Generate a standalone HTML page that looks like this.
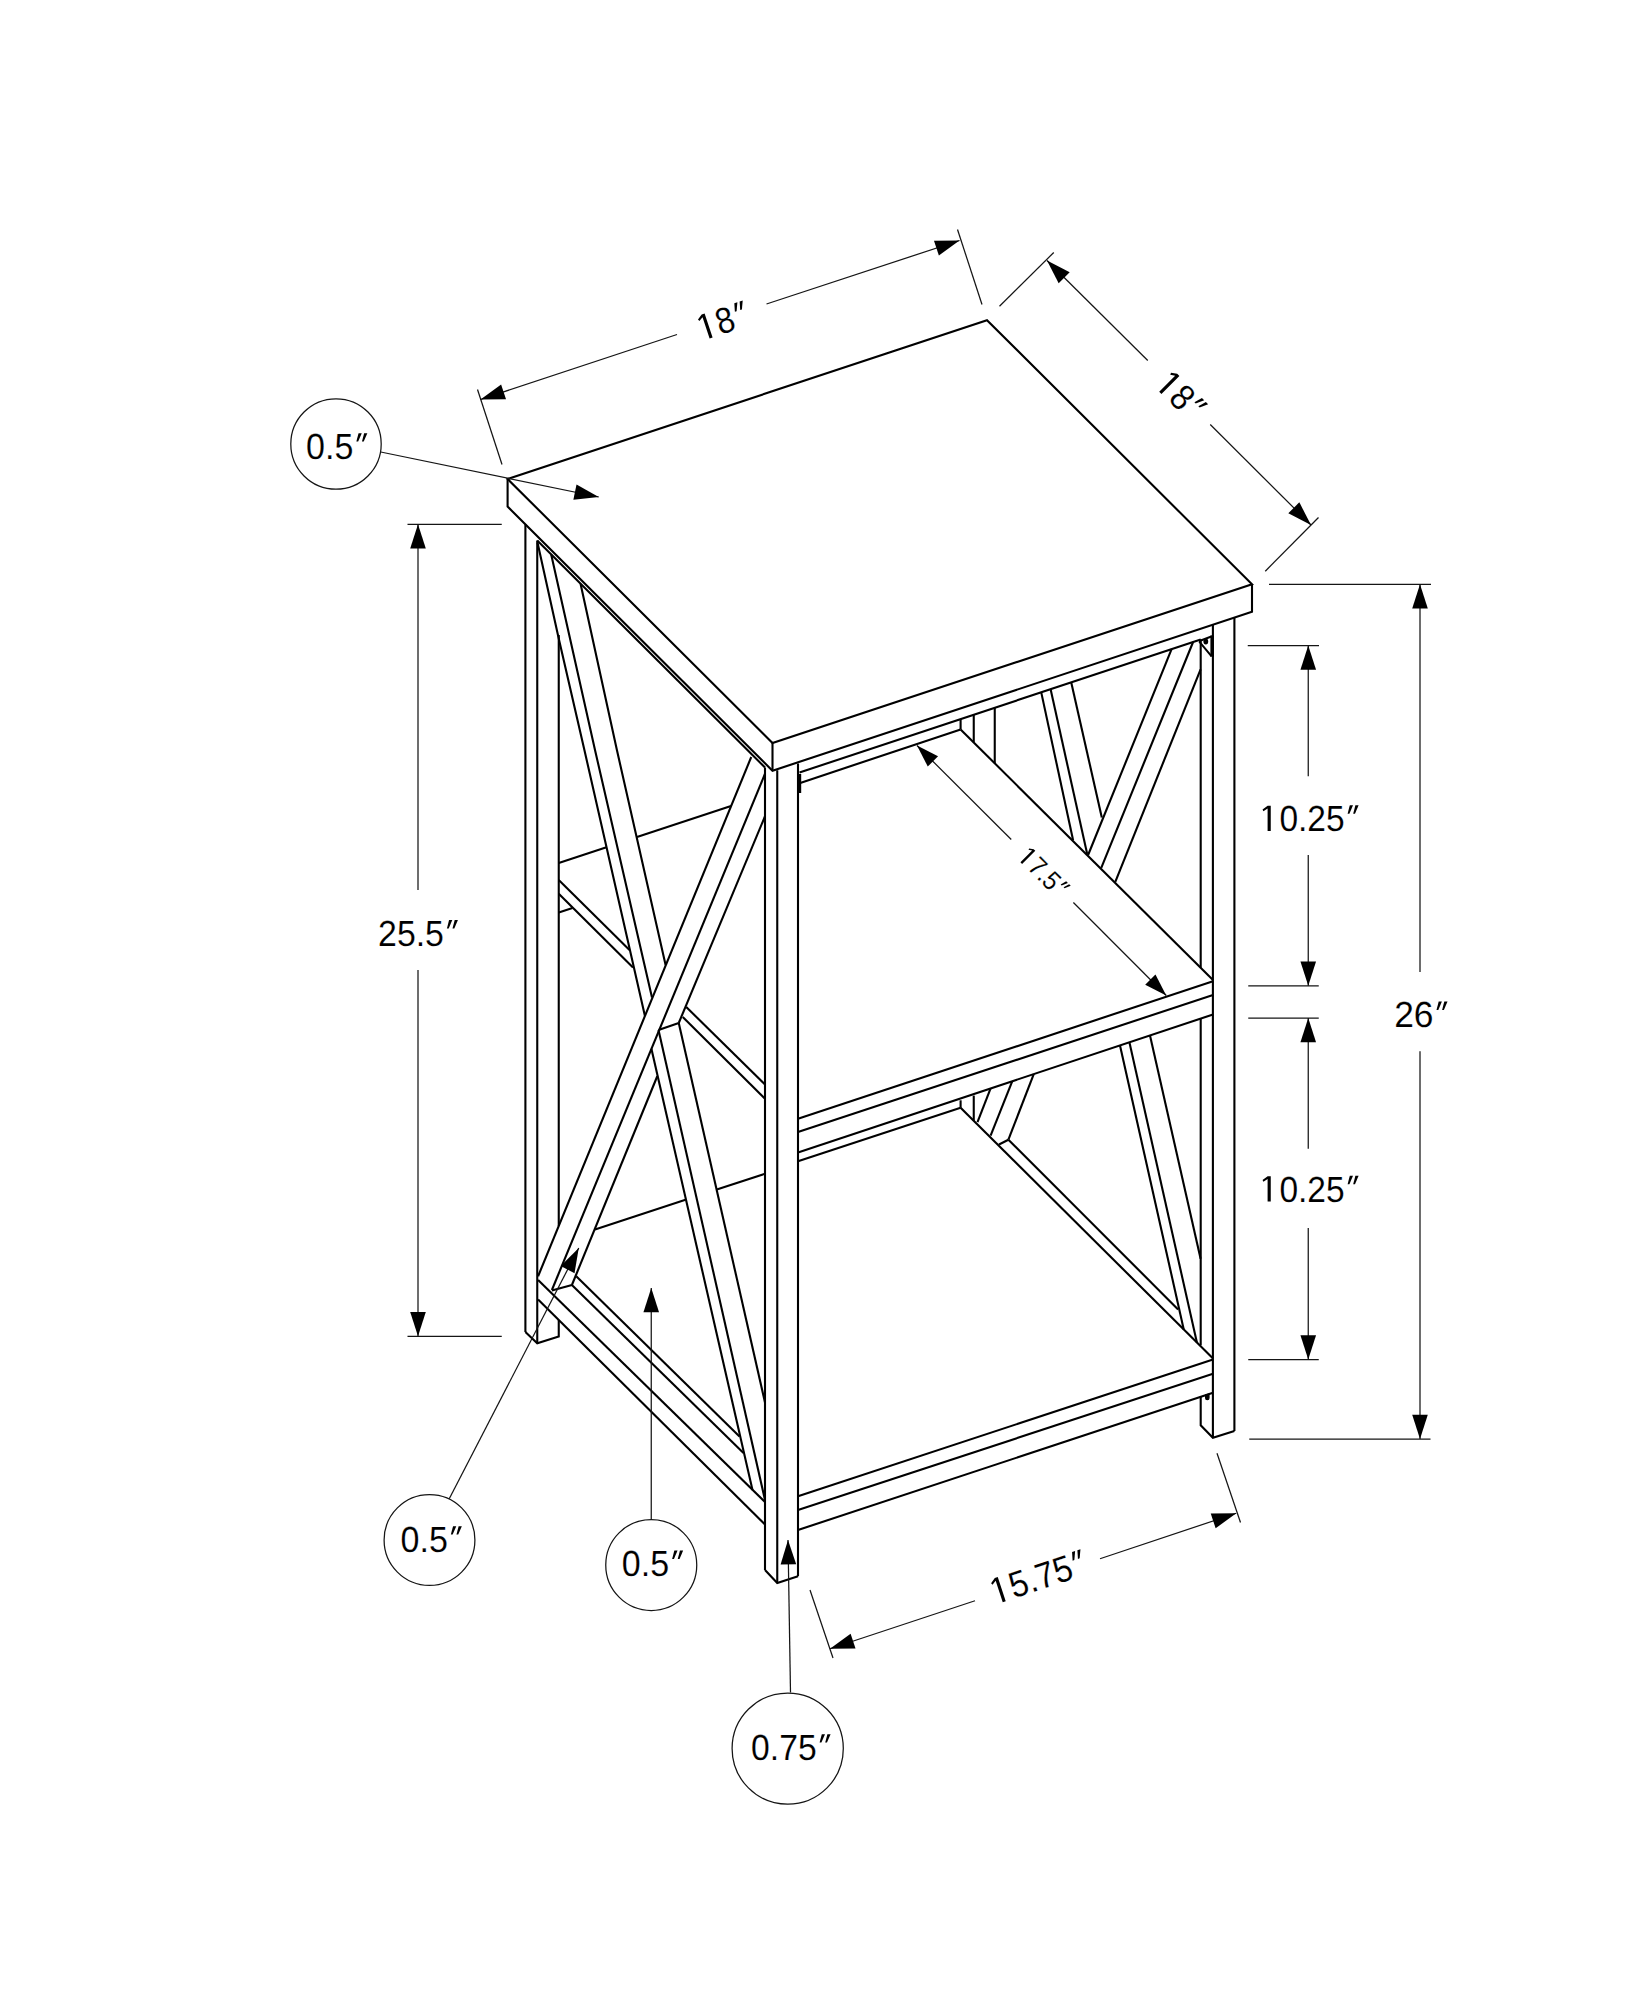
<!DOCTYPE html>
<html><head><meta charset="utf-8"><title>Dimensions</title>
<style>
html,body{margin:0;padding:0;background:#fff;}
body{width:1648px;height:2000px;overflow:hidden;}
svg{display:block;}
.k{fill:none;stroke:#000;stroke-width:2.1;stroke-linecap:butt;stroke-linejoin:miter;}
.t{fill:none;stroke:#151515;stroke-width:1.25;}
.a{fill:#000;stroke:none;}
text{font-family:"Liberation Sans",sans-serif;text-rendering:geometricPrecision;fill:#000;stroke:#fff;stroke-width:0.12;}
.h{fill:none;stroke:none;}
</style></head><body>
<svg width="1648" height="2000" viewBox="0 0 1648 2000">
<rect width="1648" height="2000" fill="#fff"/>
<g>
<path class="k" d="M507.60 479.00 L987.00 320.20 L1252.00 584.25 L772.50 743.00 Z"/>
<path class="k" d="M507.60 479.00 L507.60 506.60 L772.50 770.75 L1252.00 611.75 L1252.00 584.25"/>
<line class="k" x1="772.50" y1="743.00" x2="772.50" y2="770.75"/>
<line class="k" x1="537.25" y1="540.60" x2="765.00" y2="767.50"/>
<line class="k" x1="525.40" y1="524.50" x2="525.40" y2="1332.00"/>
<line class="k" x1="537.25" y1="540.60" x2="537.25" y2="1343.30"/>
<line class="k" x1="558.75" y1="635.00" x2="558.75" y2="1226.00"/>
<path class="k" d="M525.40 1332.00 L537.25 1343.30 L558.75 1336.50 L558.75 1320.00"/>
<line class="k" x1="765.00" y1="767.50" x2="765.00" y2="1570.00"/>
<line class="k" x1="777.25" y1="770.30" x2="777.25" y2="1583.00"/>
<line class="k" x1="798.00" y1="763.50" x2="798.00" y2="1576.25"/>
<path class="k" d="M765.00 1570.00 L777.25 1583.00 L798.00 1576.25"/>
<line class="k" x1="1200.70" y1="639.50" x2="1200.70" y2="967.70"/>
<line class="k" x1="1200.70" y1="1018.60" x2="1200.70" y2="1345.20"/>
<path class="k" d="M1200.70 1396.50 L1200.70 1425.30 L1212.90 1437.70 L1234.40 1431.00"/>
<line class="k" x1="1212.90" y1="625.00" x2="1212.90" y2="1437.70"/>
<line class="k" x1="1234.40" y1="618.00" x2="1234.40" y2="1431.00"/>
<line class="k" x1="799.50" y1="772.50" x2="1200.70" y2="639.50"/>
<line class="k" x1="799.50" y1="783.20" x2="960.60" y2="729.40"/>
<line class="k" x1="960.60" y1="719.10" x2="960.60" y2="729.40"/>
<line class="k" x1="973.75" y1="714.74" x2="973.75" y2="742.35"/>
<line class="k" x1="994.75" y1="707.77" x2="994.75" y2="763.04"/>
<line class="k" x1="960.60" y1="729.40" x2="1213.00" y2="980.00"/>
<line class="k" x1="798.00" y1="1118.75" x2="1213.00" y2="981.25"/>
<line class="k" x1="798.00" y1="1132.00" x2="1213.00" y2="995.00"/>
<line class="k" x1="798.00" y1="1152.50" x2="1213.00" y2="1014.50"/>
<line class="k" x1="798.00" y1="1161.25" x2="960.60" y2="1107.80"/>
<line class="k" x1="960.60" y1="1100.30" x2="960.60" y2="1107.80"/>
<line class="k" x1="973.75" y1="1095.60" x2="973.75" y2="1120.86"/>
<line class="k" x1="558.75" y1="863.00" x2="606.50" y2="847.30"/>
<line class="k" x1="637.00" y1="837.00" x2="731.00" y2="806.00"/>
<line class="k" x1="558.75" y1="880.00" x2="629.50" y2="950.00"/>
<line class="k" x1="686.25" y1="1007.00" x2="765.00" y2="1084.50"/>
<line class="k" x1="558.75" y1="893.75" x2="633.00" y2="967.60"/>
<line class="k" x1="682.75" y1="1017.00" x2="765.00" y2="1098.75"/>
<line class="k" x1="558.75" y1="912.50" x2="572.50" y2="908.00"/>
<path class="k" d="M537.50 542.50 L558.50 637.50 L584.40 750.00 L645.00 1016.25"/>
<path class="k" d="M551.25 554.80 L595.00 750.00 L652.00 997.50"/>
<path class="k" d="M580.60 584.00 L616.90 750.00 L665.60 965.00"/>
<line class="k" x1="751.25" y1="757.00" x2="538.10" y2="1276.25"/>
<line class="k" x1="765.00" y1="773.75" x2="551.90" y2="1290.00"/>
<line class="k" x1="765.00" y1="816.25" x2="678.75" y2="1023.00"/>
<line class="k" x1="657.25" y1="1076.25" x2="571.90" y2="1285.00"/>
<line class="k" x1="551.90" y1="1290.60" x2="571.90" y2="1285.00"/>
<line class="k" x1="651.40" y1="1048.75" x2="752.50" y2="1490.00"/>
<line class="k" x1="658.50" y1="1030.00" x2="765.00" y2="1500.00"/>
<line class="k" x1="678.75" y1="1023.00" x2="765.00" y2="1402.50"/>
<line class="k" x1="658.50" y1="1030.00" x2="678.75" y2="1023.00"/>
<line class="k" x1="595.00" y1="1229.40" x2="685.50" y2="1199.80"/>
<line class="k" x1="716.80" y1="1189.50" x2="765.00" y2="1173.75"/>
<line class="k" x1="576.25" y1="1276.25" x2="739.50" y2="1436.50"/>
<line class="k" x1="571.90" y1="1285.00" x2="743.50" y2="1453.00"/>
<line class="k" x1="538.10" y1="1280.00" x2="765.00" y2="1502.00"/>
<line class="k" x1="538.10" y1="1299.40" x2="765.00" y2="1524.50"/>
<line class="k" x1="798.00" y1="1496.25" x2="1213.00" y2="1359.50"/>
<line class="k" x1="798.00" y1="1510.00" x2="1213.00" y2="1373.75"/>
<line class="k" x1="798.00" y1="1530.00" x2="1213.00" y2="1392.80"/>
<line class="k" x1="960.60" y1="1107.80" x2="1212.80" y2="1358.30"/>
<line class="k" x1="1008.40" y1="1139.70" x2="1178.10" y2="1309.40"/>
<line class="k" x1="1041.25" y1="692.36" x2="1073.10" y2="840.21"/>
<line class="k" x1="1050.60" y1="689.26" x2="1087.20" y2="854.10"/>
<line class="k" x1="1071.25" y1="682.41" x2="1101.80" y2="817.50"/>
<line class="k" x1="1171.60" y1="649.15" x2="1088.10" y2="854.99"/>
<line class="k" x1="1193.10" y1="642.02" x2="1101.25" y2="867.94"/>
<line class="k" x1="1200.60" y1="669.40" x2="1115.30" y2="881.78"/>
<line class="k" x1="990.60" y1="1088.46" x2="977.50" y2="1122.09"/>
<line class="k" x1="1012.20" y1="1081.28" x2="990.60" y2="1135.60"/>
<line class="k" x1="1033.75" y1="1074.11" x2="1008.40" y2="1139.70"/>
<line class="k" x1="999.00" y1="1144.44" x2="1008.40" y2="1139.70"/>
<line class="k" x1="1120.00" y1="1045.43" x2="1183.75" y2="1329.45"/>
<line class="k" x1="1129.40" y1="1042.31" x2="1196.90" y2="1342.52"/>
<line class="k" x1="1150.00" y1="1035.46" x2="1200.60" y2="1258.75"/>
<line x1="799.6" y1="774" x2="799.6" y2="793" stroke="#000" stroke-width="3.2"/>
<path d="M1198.8 641.2 L1212 636.2 M1199.3 641.6 L1211.6 656.3" fill="none" stroke="#000" stroke-width="2"/>
<line x1="1212.1" y1="635.6" x2="1212.1" y2="656.6" stroke="#000" stroke-width="3.4"/>
<ellipse cx="1205.8" cy="641.5" rx="2.4" ry="3" fill="#000"/>
<path d="M1205.6 1395 v3 a1.7 1.7 0 0 0 3.4 0 v-4 z" fill="#000" stroke="#000" stroke-width="1.2"/>
<line class="t" x1="477.50" y1="389.50" x2="502.00" y2="464.50"/>
<line class="t" x1="957.50" y1="229.50" x2="982.00" y2="304.50"/>
<line class="t" x1="480.50" y1="399.50" x2="677.00" y2="334.50"/>
<line class="t" x1="766.50" y1="304.00" x2="959.50" y2="240.50"/>
<polygon class="a" points="480.50,399.50 501.11,384.45 506.02,399.26"/>
<polygon class="a" points="959.50,240.50 938.89,255.55 933.98,240.74"/>
<line class="t" x1="999.50" y1="306.25" x2="1053.75" y2="252.50"/>
<line class="t" x1="1265.25" y1="571.25" x2="1318.50" y2="517.50"/>
<line class="t" x1="1047.00" y1="260.50" x2="1147.75" y2="360.50"/>
<line class="t" x1="1210.25" y1="424.50" x2="1311.00" y2="525.00"/>
<polygon class="a" points="1047.00,260.50 1069.70,272.17 1058.67,283.20"/>
<polygon class="a" points="1311.00,525.00 1288.30,513.33 1299.33,502.30"/>
<line class="t" x1="407.50" y1="524.25" x2="501.75" y2="524.25"/>
<line class="t" x1="407.50" y1="1336.25" x2="501.75" y2="1336.25"/>
<line class="t" x1="418.00" y1="524.25" x2="418.00" y2="890.00"/>
<line class="t" x1="418.00" y1="970.00" x2="418.00" y2="1336.25"/>
<polygon class="a" points="418.00,524.25 425.80,548.55 410.20,548.55"/>
<polygon class="a" points="418.00,1336.25 410.20,1311.95 425.80,1311.95"/>
<line class="t" x1="1269.00" y1="584.25" x2="1431.00" y2="584.25"/>
<line class="t" x1="1249.25" y1="1439.00" x2="1430.50" y2="1439.00"/>
<line class="t" x1="1420.00" y1="584.25" x2="1420.00" y2="972.00"/>
<line class="t" x1="1420.00" y1="1051.25" x2="1420.00" y2="1439.00"/>
<polygon class="a" points="1420.00,584.25 1427.80,608.55 1412.20,608.55"/>
<polygon class="a" points="1420.00,1439.00 1412.20,1414.70 1427.80,1414.70"/>
<line class="t" x1="1247.75" y1="645.50" x2="1319.00" y2="645.50"/>
<line class="t" x1="1248.25" y1="985.75" x2="1318.75" y2="985.75"/>
<line class="t" x1="1308.25" y1="645.50" x2="1308.25" y2="776.25"/>
<line class="t" x1="1308.25" y1="855.00" x2="1308.25" y2="985.75"/>
<polygon class="a" points="1308.25,645.50 1316.05,669.80 1300.45,669.80"/>
<polygon class="a" points="1308.25,985.75 1300.45,961.45 1316.05,961.45"/>
<line class="t" x1="1248.25" y1="1018.00" x2="1318.75" y2="1018.00"/>
<line class="t" x1="1248.25" y1="1359.50" x2="1318.75" y2="1359.50"/>
<line class="t" x1="1308.25" y1="1018.00" x2="1308.25" y2="1148.75"/>
<line class="t" x1="1308.25" y1="1228.00" x2="1308.25" y2="1359.50"/>
<polygon class="a" points="1308.25,1018.00 1316.05,1042.30 1300.45,1042.30"/>
<polygon class="a" points="1308.25,1359.50 1300.45,1335.20 1316.05,1335.20"/>
<line class="t" x1="917.00" y1="745.50" x2="1011.25" y2="839.50"/>
<line class="t" x1="1073.40" y1="902.50" x2="1166.25" y2="995.50"/>
<polygon class="a" points="917.00,745.50 938.04,756.28 927.78,766.54"/>
<polygon class="a" points="1166.25,995.50 1145.21,984.72 1155.47,974.46"/>
<line class="t" x1="810.00" y1="1590.00" x2="833.00" y2="1658.00"/>
<line class="t" x1="1217.00" y1="1453.25" x2="1240.50" y2="1522.50"/>
<line class="t" x1="830.00" y1="1648.75" x2="975.00" y2="1600.75"/>
<line class="t" x1="1100.00" y1="1558.75" x2="1236.25" y2="1513.25"/>
<polygon class="a" points="830.00,1648.75 850.61,1633.70 855.52,1648.51"/>
<polygon class="a" points="1236.25,1513.25 1215.64,1528.30 1210.73,1513.49"/>
<circle class="t" cx="336" cy="444" r="45.2"/>
<line class="t" x1="380.75" y1="452.00" x2="598.75" y2="497.00"/>
<polygon class="a" points="598.75,497.00 573.37,499.73 576.53,484.45"/>
<circle class="t" cx="429.5" cy="1540" r="45.4"/>
<line class="t" x1="449.25" y1="1498.75" x2="578.75" y2="1248.00"/>
<polygon class="a" points="578.75,1248.00 574.53,1273.17 560.67,1266.01"/>
<circle class="t" cx="651.25" cy="1565" r="45.5"/>
<line class="t" x1="651.25" y1="1519.50" x2="651.25" y2="1288.00"/>
<polygon class="a" points="651.25,1288.00 659.05,1312.30 643.45,1312.30"/>
<circle class="t" cx="787.7" cy="1748.6" r="55.6"/>
<line class="t" x1="790.50" y1="1692.50" x2="788.00" y2="1540.00"/>
<polygon class="a" points="788.00,1540.00 796.20,1564.17 780.60,1564.42"/>
</g>
<g>
<text x="378.06" y="945.90" font-size="36.4" textLength="65.89" lengthAdjust="spacingAndGlyphs">25.5</text><polygon class="a" points="449.10,920.10 452.30,920.10 448.70,928.50 446.90,928.50"/><polygon class="a" points="454.70,920.10 457.90,920.10 454.30,928.50 452.50,928.50"/>
<text x="1394.16" y="1027.40" font-size="36.4" textLength="39.39" lengthAdjust="spacingAndGlyphs">26</text><polygon class="a" points="1438.70,1001.60 1441.90,1001.60 1438.30,1010.00 1436.50,1010.00"/><polygon class="a" points="1444.30,1001.60 1447.50,1001.60 1443.90,1010.00 1442.10,1010.00"/>
<polygon class="a" points="1267.65,805.70 1270.75,805.70 1270.75,831.10 1267.60,831.10 1267.60,808.60 1263.40,811.30 1262.55,809.40"/><text x="1260.76" y="831.10" font-size="36.4" textLength="83.89" lengthAdjust="spacingAndGlyphs"><tspan class="h">1</tspan>0.25</text><polygon class="a" points="1349.80,805.30 1353.00,805.30 1349.40,813.70 1347.60,813.70"/><polygon class="a" points="1355.40,805.30 1358.60,805.30 1355.00,813.70 1353.20,813.70"/>
<polygon class="a" points="1267.65,1176.20 1270.75,1176.20 1270.75,1201.60 1267.60,1201.60 1267.60,1179.10 1263.40,1181.80 1262.55,1179.90"/><text x="1260.76" y="1201.60" font-size="36.4" textLength="83.89" lengthAdjust="spacingAndGlyphs"><tspan class="h">1</tspan>0.25</text><polygon class="a" points="1349.80,1175.80 1353.00,1175.80 1349.40,1184.20 1347.60,1184.20"/><polygon class="a" points="1355.40,1175.80 1358.60,1175.80 1355.00,1184.20 1353.20,1184.20"/>
<text x="306.06" y="459.00" font-size="36.4" textLength="47.34" lengthAdjust="spacingAndGlyphs">0.5</text><polygon class="a" points="358.55,433.20 361.75,433.20 358.15,441.60 356.35,441.60"/><polygon class="a" points="364.15,433.20 367.35,433.20 363.75,441.60 361.95,441.60"/>
<text x="400.56" y="1552.00" font-size="36.4" textLength="47.34" lengthAdjust="spacingAndGlyphs">0.5</text><polygon class="a" points="453.05,1526.20 456.25,1526.20 452.65,1534.60 450.85,1534.60"/><polygon class="a" points="458.65,1526.20 461.85,1526.20 458.25,1534.60 456.45,1534.60"/>
<text x="621.86" y="1576.40" font-size="36.4" textLength="47.34" lengthAdjust="spacingAndGlyphs">0.5</text><polygon class="a" points="674.35,1550.60 677.55,1550.60 673.95,1559.00 672.15,1559.00"/><polygon class="a" points="679.95,1550.60 683.15,1550.60 679.55,1559.00 677.75,1559.00"/>
<text x="751.06" y="1760.00" font-size="36.4" textLength="65.59" lengthAdjust="spacingAndGlyphs">0.75</text><polygon class="a" points="821.80,1734.20 825.00,1734.20 821.40,1742.60 819.60,1742.60"/><polygon class="a" points="827.40,1734.20 830.60,1734.20 827.00,1742.60 825.20,1742.60"/>
<g transform="translate(704.67 340.2) rotate(-18.33)"><polygon class="a" points="5.25,-25.40 8.35,-25.40 8.35,0.00 5.20,0.00 5.20,-22.50 1.00,-19.80 0.15,-21.70"/><text x="-1.64" y="0.00" font-size="36.4" textLength="36.29" lengthAdjust="spacingAndGlyphs"><tspan class="h">1</tspan>8</text><polygon class="a" points="39.80,-25.80 43.00,-25.80 39.40,-17.40 37.60,-17.40"/><polygon class="a" points="45.40,-25.80 48.60,-25.80 45.00,-17.40 43.20,-17.40"/></g>
<g transform="translate(1155.54 388.04) rotate(45)"><polygon class="a" points="5.25,-25.40 8.35,-25.40 8.35,0.00 5.20,0.00 5.20,-22.50 1.00,-19.80 0.15,-21.70"/><text x="-1.64" y="0.00" font-size="36.4" textLength="36.29" lengthAdjust="spacingAndGlyphs"><tspan class="h">1</tspan>8</text><polygon class="a" points="39.80,-25.80 43.00,-25.80 39.40,-17.40 37.60,-17.40"/><polygon class="a" points="45.40,-25.80 48.60,-25.80 45.00,-17.40 43.20,-17.40"/></g>
<g transform="translate(997.8 1603.8) rotate(-18.33)"><polygon class="a" points="5.25,-25.40 8.35,-25.40 8.35,0.00 5.20,0.00 5.20,-22.50 1.00,-19.80 0.15,-21.70"/><text x="-1.64" y="0.00" font-size="36.4" textLength="83.29" lengthAdjust="spacingAndGlyphs"><tspan class="h">1</tspan>5.75</text><polygon class="a" points="86.80,-25.80 90.00,-25.80 86.40,-17.40 84.60,-17.40"/><polygon class="a" points="92.40,-25.80 95.60,-25.80 92.00,-17.40 90.20,-17.40"/></g>
<g transform="translate(1017.75 859.6) rotate(45)"><polygon class="a" points="3.86,-18.67 6.14,-18.67 6.14,0.00 3.82,0.00 3.82,-16.54 0.73,-14.55 0.11,-15.95"/><text x="-1.20" y="0.00" font-size="26.753999999999998" textLength="46.97" lengthAdjust="spacingAndGlyphs"><tspan class="h">1</tspan>7.5</text><polygon class="a" points="49.55,-18.96 51.90,-18.96 49.26,-12.79 47.93,-12.79"/><polygon class="a" points="53.67,-18.96 56.02,-18.96 53.37,-12.79 52.05,-12.79"/></g>
</g>
</svg>
</body></html>
